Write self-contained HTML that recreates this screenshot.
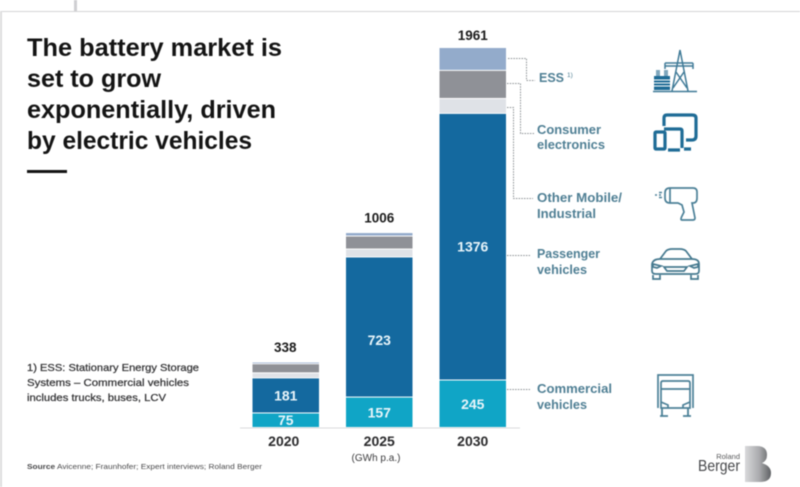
<!DOCTYPE html>
<html lang="en">
<head>
<meta charset="utf-8">
<title>Battery market chart</title>
<style>
html,body{margin:0;padding:0;background:#fff;}
body{width:800px;height:487px;overflow:hidden;}
svg{display:block;filter:blur(0.5px);}
text{font-family:"Liberation Sans",sans-serif;}
</style>
</head>
<body>
<svg id="chart" width="800" height="487" viewBox="0 0 800 487" xmlns="http://www.w3.org/2000/svg">
  <rect x="0" y="0" width="800" height="487" fill="#fff"/>
  <rect x="0" y="11" width="800" height="1" fill="#d4d4d6"/>
  <rect x="0" y="11" width="2" height="476" fill="#dcdcde"/>
  <rect x="74" y="0" width="3" height="11" fill="#cfcfd2"/>

  <g font-size="25" font-weight="700" fill="#141414">
    <text x="27" y="56" textLength="255" lengthAdjust="spacingAndGlyphs">The battery market is</text>
    <text x="27" y="87" textLength="134" lengthAdjust="spacingAndGlyphs">set to grow</text>
    <text x="27" y="118" textLength="249" lengthAdjust="spacingAndGlyphs">exponentially, driven</text>
    <text x="27" y="149" textLength="225" lengthAdjust="spacingAndGlyphs">by electric vehicles</text>
  </g>
  <rect x="27" y="170" width="40" height="3" fill="#141414"/>

  <g font-size="10.5" fill="#333335" stroke="#333335" stroke-width="0.25">
    <text x="27" y="371" textLength="172" lengthAdjust="spacingAndGlyphs">1) ESS: Stationary Energy Storage</text>
    <text x="27" y="386" textLength="162" lengthAdjust="spacingAndGlyphs">Systems – Commercial vehicles</text>
    <text x="27" y="401" textLength="139" lengthAdjust="spacingAndGlyphs">includes trucks, buses, LCV</text>
  </g>
  <text x="27" y="469" font-size="7.5" fill="#4a4a4c" textLength="235" lengthAdjust="spacingAndGlyphs"><tspan font-weight="700">Source</tspan> Avicenne; Fraunhofer; Expert interviews; Roland Berger</text>

  <g id="bars"></g>
  <rect x="240" y="427.5" width="280" height="1" fill="#d9dadc"/>
  <text x="376" y="461" font-size="10" fill="#3c3c3e" text-anchor="middle">(GWh p.a.)</text>

  <g fill="none" stroke="#8b9093" stroke-width="1" stroke-dasharray="1.5 1.2">
    <path d="M508 58.500H526.500V80.500H535"/>
    <path d="M507 83.500H520.500V133.500H534"/>
    <path d="M507 107.500H513.500V198.500H533"/>
    <path d="M507 255.500H530"/>
    <path d="M507 389.500H530"/>
  </g>

  <g font-size="13" font-weight="700" fill="#4f7f94">
    <g>
      <text x="539" y="82" textLength="25" lengthAdjust="spacingAndGlyphs">ESS</text>
      <text x="567" y="77" font-size="6.500" font-weight="400">1)</text>
    </g>
    <g>
      <text x="537" y="134" textLength="64" lengthAdjust="spacingAndGlyphs">Consumer</text>
      <text x="537" y="149" textLength="68" lengthAdjust="spacingAndGlyphs">electronics</text>
    </g>
    <g>
      <text x="537" y="202" textLength="85" lengthAdjust="spacingAndGlyphs">Other Mobile/</text>
      <text x="537" y="218" textLength="59" lengthAdjust="spacingAndGlyphs">Industrial</text>
    </g>
    <g>
      <text x="537" y="258" textLength="63" lengthAdjust="spacingAndGlyphs">Passenger</text>
      <text x="537" y="274" textLength="50" lengthAdjust="spacingAndGlyphs">vehicles</text>
    </g>
    <g>
      <text x="537" y="393" textLength="75" lengthAdjust="spacingAndGlyphs">Commercial</text>
      <text x="537" y="409" textLength="50" lengthAdjust="spacingAndGlyphs">vehicles</text>
    </g>
  </g>

  <g fill="none" stroke="#3f7a97" stroke-width="1.500">
    <path d="M672 91L680 50L688 91M653 91.500H697M676 72L687 88M684 72L673 88M665 63H693M665 66H693M665 63V69M693 63V69"/>
    <rect x="654" y="76" width="16" height="14" fill="#1f6c96" stroke="none"/>
    <path d="M654 80H670M654 83H670M654 86H670" stroke="#fff" stroke-width="1"/>
    <rect x="656" y="70" width="4" height="6" fill="#7fa7bd" stroke="none"/>
    <rect x="664" y="70" width="4" height="6" fill="#7fa7bd" stroke="none"/>
  </g>

  <g fill="none" stroke="#1f6c96" stroke-width="3.200">
    <path d="M664 126V118Q664 115 667 115H692Q696 115 696 118V136Q696 140 692 140H686"/>
    <path d="M664 129H680Q682 129 682 131V148"/>
    <rect x="655" y="132" width="10" height="17" rx="1"/>
    <path d="M668 150H680M684 149H691"/>
  </g>

  <g fill="none" stroke="#4b8097" stroke-width="1.700">
    <path d="M670 188H693Q697 188 697 192V198Q697 203 693 203H692L695 218Q695 220 693 220H682Q680 220 682 216L684 212L682 205L678 203H670Q665 203 665 198V193Q665 188 670 188Z"/>
    <path d="M670 188V203"/>
    <path d="M655 195H657M659 195H661M659 192.500H662M659 197.500H662" stroke-width="1.500"/>
  </g>

  <g fill="none" stroke="#45798f" stroke-width="1.700">
    <path d="M660 259L666 251Q668 249 672 249H680Q684 249 686 251L692 259"/>
    <path d="M652 264Q653 259 660 259H692Q699 259 699 264V271Q699 274 695 274H656Q652 274 652 271Z"/>
    <path d="M664 267H687L684 271H667ZM653 264L661 266L657 268L653 267ZM698 264L690 266L694 268L698 267Z"/>
    <path d="M653 275V279H660V275M691 275V279H698V275"/>
  </g>

  <g fill="none" stroke="#4b8097" stroke-width="1.700">
    <path d="M658 408V375H693V408"/>
    <path d="M661 408V383Q661 381 663 381H688Q690 381 690 383V408Z"/>
    <path d="M661 389H690M661 402L668 405V408M690 402L683 405V408"/>
    <path d="M660 416H668M683 416H691M662 408V416M688 408V416" stroke-width="1.800"/>
  </g>

  <defs>
    <linearGradient id="logo-gradient" x1="0" y1="0" x2="1" y2="0">
      <stop offset="0" stop-color="#d9d9db"/>
      <stop offset="0.55" stop-color="#a9aaad"/>
      <stop offset="1" stop-color="#5f6164"/>
    </linearGradient>
  </defs>
  <g>
    <text x="740" y="459" font-size="7.500" fill="#58595b" text-anchor="end">Roland</text>
    <text x="740" y="471" font-size="16" fill="#46474a" text-anchor="end" textLength="42" lengthAdjust="spacingAndGlyphs">Berger</text>
    <path d="M745 446H757Q767 446 767 455Q767 461 762 463Q771 466 771 473Q771 482 760 482H745Z" fill="url(#logo-gradient)"/>
  </g>
</svg>

<script>
const years = ['2020', '2025', '2030'];
const totals = [338, 1006, 1961];
const commercial = [75, 157, 245];
const passenger = [181, 723, 1376];
const otherMobile = [26, 41, 77];
const consumerElectronics = [47, 67, 145];
const ess = [9, 18, 118];

const svgNS = 'http://www.w3.org/2000/svg';
const barsGroup = document.getElementById('bars');
const baseY = 427.5;
const unitPx = 380 / 1961;
const barWidth = 66.5;

function xBand(i) { return 252.5 + i * 93.5; }
function yScale(v) { return baseY - v * unitPx; }

const stackOrder = [
  { key: 'commercial', values: commercial, color: '#10a5c6', labelled: true },
  { key: 'passenger', values: passenger, color: '#14699f', labelled: true },
  { key: 'other-mobile', values: otherMobile, color: '#dfe2e7', labelled: false },
  { key: 'consumer-electronics', values: consumerElectronics, color: '#8f9197', labelled: false },
  { key: 'ess', values: ess, color: '#93abcb', labelled: false }
];

function addText(content, x, y, size, weight, fill) {
  const t = document.createElementNS(svgNS, 'text');
  t.setAttribute('x', x);
  t.setAttribute('y', y);
  t.setAttribute('font-size', size);
  t.setAttribute('font-weight', weight);
  t.setAttribute('fill', fill);
  t.setAttribute('text-anchor', 'middle');
  t.textContent = content;
  barsGroup.appendChild(t);
  return t;
}

years.forEach(function (year, i) {
  let running = 0;
  const x = xBand(i);
  const cx = x + barWidth / 2;
  stackOrder.forEach(function (seg) {
    const v = seg.values[i];
    const top = yScale(running + v);
    const bottom = yScale(running);
    const r = document.createElementNS(svgNS, 'rect');
    r.setAttribute('x', x);
    r.setAttribute('y', top + 0.5);
    r.setAttribute('width', barWidth);
    r.setAttribute('height', Math.max(bottom - top - 1, 0.5));
    r.setAttribute('fill', seg.color);
    
    
    barsGroup.appendChild(r);
    if (seg.labelled) {
      const nudge = (year === '2025' && seg.key === 'passenger') ? 18 : 5;
      const label = addText(String(v), cx, (top + bottom) / 2 + nudge, 14, 700, '#e9f5fa');
      
      
    }
    running += v;
  });
  const totalGap = (i === 2) ? 7.5 : 10;
  const totalLabel = addText(String(totals[i]), cx + (i === 0 ? -0.5 : 0), yScale(totals[i]) - totalGap, 13.5, 700, '#1b1b1b');
  
  
  const yearLabel = addText(year, cx - (i === 0 ? 2 : 0), 446, 14, 700, '#2a2a2c');
  
  
});
</script>
</body>
</html>
